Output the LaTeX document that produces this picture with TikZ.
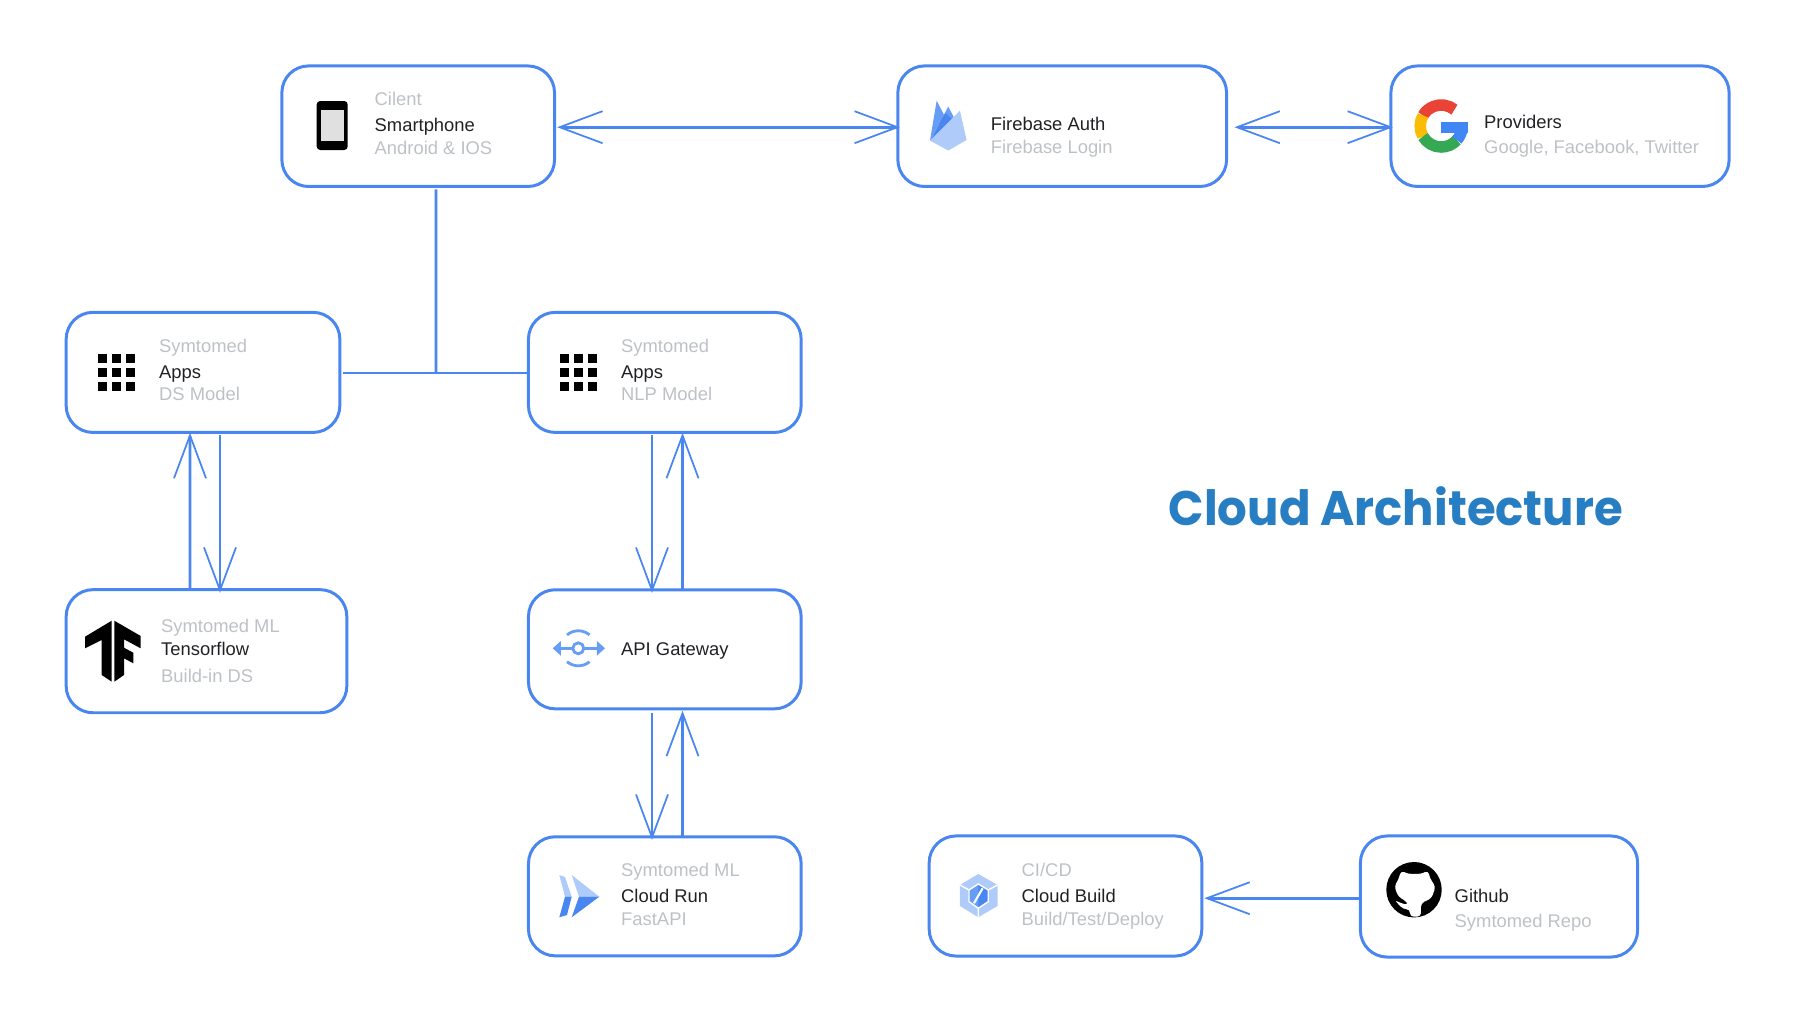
\documentclass[tikz,border=0pt]{standalone}
\usepackage{fontspec}
\setmainfont{Liberation Sans}
\newfontfamily\titlefont[FakeStretch=0.96]{Poppins}
\usepackage{tikz}
\usetikzlibrary{arrows.meta,positioning,calc}
\usepackage{xcolor}
\definecolor{gblue}{RGB}{74,134,240}
\definecolor{gmid}{RGB}{102,157,246}
\definecolor{glight}{RGB}{174,203,250}
\definecolor{ggrey}{RGB}{189,193,198}
\definecolor{gink}{RGB}{32,33,36}
\definecolor{titleblue}{RGB}{39,126,194}
\definecolor{logored}{RGB}{234,67,53}
\definecolor{logoyellow}{RGB}{251,188,5}
\definecolor{logogreen}{RGB}{52,168,83}
\definecolor{logoblue}{RGB}{66,133,244}

\begin{document}
\begin{tikzpicture}[
    x=0.01cm, y=0.01cm,
    box/.style={draw=gblue, line width=0.85pt, rounded corners=7.6pt, inner sep=0pt, outer sep=0pt},
    wide/.style={minimum width=2.725cm, minimum height=1.2cm},
    hi/.style ={font=\fontsize{5.23}{6}\selectfont, text=gink,  anchor=base west, inner sep=0pt},
    lo/.style ={font=\fontsize{5.23}{6}\selectfont, text=ggrey, anchor=base west, inner sep=0pt},
    link/.style={draw=gblue, line width=0.78pt},
    oneway/.style={link, shorten >=-0.6pt, -{Straight Barb[length=12.2pt, width=9.1pt, line width=0.5pt]}},
    twoway/.style={link, shorten >=-0.6pt, shorten <=-0.6pt, {Straight Barb[length=12.2pt, width=9.1pt, line width=0.5pt]}-{Straight Barb[length=12.2pt, width=9.1pt, line width=0.5pt]}}
]
\useasboundingbox (0,0) rectangle (1794,-1024);

% Boxes
\node[box, wide, minimum height=1.205cm] (client) at (418.2,-126.2) {};
\node[box, wide, minimum width=3.285cm, minimum height=1.205cm] (firebase) at (1062.2,-126.2) {};
\node[box, wide, minimum width=3.38cm, minimum height=1.205cm] (providers) at (1560,-126.2) {};
\node[box, wide, minimum width=2.735cm] (appsds) at (203,-372.4) {};
\node[box, wide] (appsnlp) at (664.8,-372.4) {};
\node[box, wide, minimum width=2.805cm, minimum height=1.23cm] (tfbox) at (206.5,-651.2) {};
\node[box, wide, minimum height=1.19cm] (gateway) at (664.8,-649.3) {};
\node[box, wide, minimum height=1.19cm] (cloudrun) at (664.8,-896.3) {};
\node[box, wide, minimum height=1.2cm] (cloudbuild) at (1065.5,-896) {};
\node[box, wide, minimum width=2.77cm, minimum height=1.21cm] (github) at (1499,-896.5) {};

% Labels
\node[lo] (clientA) at (374,-105.5) {Cilent};
\node[hi] (clientB) at (374,-131.5) {Smartphone};
\node[lo] (clientC) at (374,-154.5) {Android \& IOS};
\node[hi] (firebaseA) at (990.2,-130) {Firebase Auth};
\node[lo] (firebaseB) at (990.2,-153.5) {Firebase Login};
\node[hi] (providersA) at (1483.5,-128) {Providers};
\node[lo] (providersB) at (1483.5,-153) {Google, Facebook, Twitter};
\node[lo] (appsdsA) at (158.5,-352.5) {Symtomed};
\node[hi] (appsdsB) at (158.5,-378.5) {Apps};
\node[lo] (appsdsC) at (158.5,-400.5) {DS Model};
\node[lo] (appsnlpA) at (620.5,-352.5) {Symtomed};
\node[hi] (appsnlpB) at (620.5,-378.5) {Apps};
\node[lo] (appsnlpC) at (620.5,-400.5) {NLP Model};
\node[lo] (tfboxA) at (160.5,-632.5) {Symtomed ML};
\node[hi] (tfboxB) at (160.5,-655.5) {Tensorflow};
\node[lo] (tfboxC) at (160.5,-682) {Build-in DS};
\node[hi] (gatewayA) at (620.5,-655.5) {API Gateway};
\node[lo] (cloudrunA) at (620.5,-876) {Symtomed ML};
\node[hi] (cloudrunB) at (620.5,-902.5) {Cloud Run};
\node[lo] (cloudrunC) at (620.5,-925.5) {FastAPI};
\node[lo] (cloudbuildA) at (1021,-876) {CI/CD};
\node[hi] (cloudbuildB) at (1021,-902.5) {Cloud Build};
\node[lo] (cloudbuildC) at (1021,-925.5) {Build/Test/Deploy};
\node[hi] (githubA) at (1454,-902.5) {Github};
\node[lo] (githubB) at (1454,-927) {Symtomed Repo};

% Title
\node[font=\titlefont\bfseries\fontsize{13.8}{17}\selectfont, text=titleblue, anchor=base west, inner sep=0pt] (title) at (1168,-525) {Cloud Architecture};

% Arrows
\draw[twoway] ([shift={(4.7,-1)}]client.east) -- ([shift={(0,-1)}]firebase.west);
\draw[twoway] ([shift={(10,-1)}]firebase.east) -- ([shift={(0,-1)}]providers.west);
\coordinate (junction) at (436,-373);
\draw[link] ([shift={(17.8,-3)}]client.south) -- (junction);
\draw[link] ([shift={(3.5,-0.6)}]appsds.east) -- ([shift={(0,-0.6)}]appsnlp.west);
\draw[oneway] ([xshift=-4.69pt]tfbox.north) -- ([shift={(-13,-2.5)}]appsds.south);
\draw[oneway] ([shift={(17,-2.5)}]appsds.south) -- ([shift={(13.5,-1)}]tfbox.north);
\draw[oneway] ([shift={(-12.8,-2.5)}]appsnlp.south) -- ([shift={(-12.8,-1)}]gateway.north);
\draw[oneway] ([xshift=5.04pt]gateway.north) -- ([shift={(17.7,-2.5)}]appsnlp.south);
\draw[oneway] ([shift={(-12.8,-4)}]gateway.south) -- ([shift={(-12.8,-1)}]cloudrun.north);
\draw[oneway] ([xshift=5.04pt]cloudrun.north) -- ([shift={(17.7,-4)}]gateway.south);
\draw[oneway] ([shift={(0,-1.7)}]github.west) -- ([shift={(4.6,-2.2)}]cloudbuild.east);

% Phone
\fill[black, rounded corners=1pt] (316.7,-101) rectangle (347.7,-150);
\fill[black!12] (320.5,-110) rectangle (344,-141);

% App grids
\foreach \gx in {0,462} {
    \foreach \i in {0,1,2} {
        \foreach \j in {0,1,2} {
            \fill[black] (98.3+\gx+\i*14,-354-\j*14) rectangle ++(9,-9);
        }
    }
}

% Firebase flames
\begin{scope}[shift={(915,-90)}, x=0.00333cm, y=-0.00333cm]
\fill[gmid] (45,152) -- (65,32) -- (90,80) -- (70,115) -- cycle;
\fill[gmid] (45,152) -- (100,50) -- (120,88) -- cycle;
\fill[gblue] (50,150) -- (80,88) -- (92,70) -- (112,88) -- cycle;
\fill[glight] (45,152) -- (135,62) -- (155,150) -- (100,182) -- cycle;
\end{scope}

% Google G
\begin{scope}[shift={(1441.2,-126)}, line width=0.115cm]
\draw[logored] (51:0.21cm) arc[start angle=51, end angle=150, radius=0.21cm];
\draw[logoyellow] (150:0.21cm) arc[start angle=150, end angle=210, radius=0.21cm];
\draw[logogreen] (210:0.21cm) arc[start angle=210, end angle=318, radius=0.21cm];
\draw[logoblue] (318:0.21cm) arc[start angle=318, end angle=360, radius=0.21cm];
\fill[logoblue] (0,4.3) rectangle (26.7,-7.3);
\end{scope}

% Tensorflow
\fill[black] (111.7,-620.7) -- (85,-636.7) -- (85,-648.3) -- (101.7,-640) -- (101.7,-675) -- (111.7,-681.7) -- cycle;
\fill[black] (114.3,-620.7) -- (140.7,-636) -- (140.7,-648.3) -- (124,-639.3) -- (124,-647.7) -- (133.3,-652.7) -- (133.3,-663.3) -- (124,-658.3) -- (124,-675) -- (114.3,-681.7) -- cycle;

% Gateway
\draw[gmid, line width=0.7pt, {Triangle[length=2.3pt, width=4pt]}-{Triangle[length=2.3pt, width=4pt]}] (552.7,-648.3) -- (605,-648.3);
\draw[gmid, line width=0.8pt, fill=white] (578.3,-648.3) circle[radius=0.055cm];
\draw[gmid, line width=0.8pt] (578.3,-648.3) ++(50:0.175cm) arc[start angle=50, end angle=130, radius=0.175cm];
\draw[gmid, line width=0.8pt] (578.3,-648.3) ++(230:0.175cm) arc[start angle=230, end angle=310, radius=0.175cm];

% Cloud Run
\fill[glight] (571.7,-875) -- (599.3,-896.7) -- (579,-896.7) -- cycle;
\fill[gblue] (579,-896.7) -- (599.3,-896.7) -- (571.7,-917.3) -- cycle;
\fill[glight] (559.3,-875) -- (565,-877) -- (571.7,-896.7) -- (565,-896.7) -- cycle;
\fill[gblue] (565,-896.7) -- (571.7,-896.7) -- (567,-915) -- (559.3,-917.3) -- cycle;

% Cloud Build
\begin{scope}[shift={(945,-860)}, x=0.00333cm, y=-0.00333cm]
\fill[glight] (100,42) -- (158,75) -- (158,138) -- (100,172) -- (45,138) -- (45,75) -- cycle;
\fill[gmid] (100,72) -- (130,90) -- (130,125) -- (100,145) -- (72,125) -- (72,90) -- cycle;
\fill[gblue] (100,72) -- (130,90) -- (130,125) -- (100,145) -- cycle;
\draw[white, line width=0.4pt] (100,72) -- (130,90) -- (130,125) -- (100,145) -- (72,125) -- (72,90) -- cycle;
\draw[white, line width=0.4pt] (45,75) -- (72,90) (158,75) -- (130,90) (100,172) -- (100,145);
\draw[white, line width=0.6pt] (87,130) -- (113,85);
\end{scope}

% Github cat
\fill[black] (1414,-889.7) circle[radius=0.277cm];
\begin{scope}[shift={(1375,-850)}, x=0.00333cm, y=-0.00333cm]
\fill[white, rounded corners=1pt] (78,62) -- (100,72) -- (138,72) -- (160,62) -- (165,85) -- (182,110) -- (170,145) -- (138,160) -- (138,200) -- (105,200) -- (105,178) -- (85,178) -- (58,150) -- (78,160) -- (100,165) -- (95,155) -- (70,140) -- (58,110) -- (72,85) -- cycle;
\end{scope}
\end{tikzpicture}
\end{document}
